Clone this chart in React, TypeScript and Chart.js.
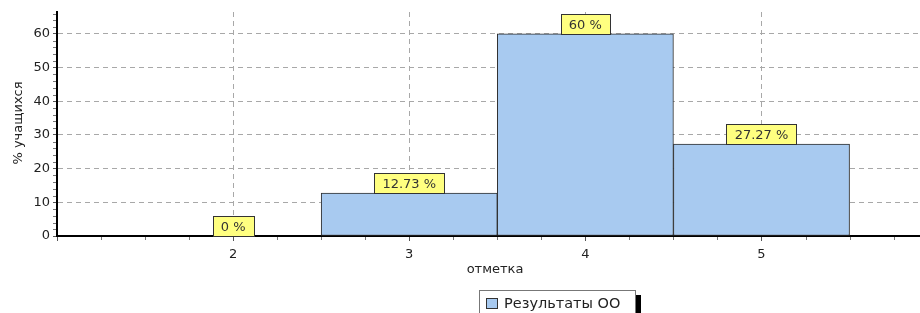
import React, { useEffect, useRef } from 'react';
import { Chart, registerables } from 'chart.js';

Chart.register(...registerables);

const categories = [2, 3, 4, 5];
const values = [0, 12.73, 60, 27.27];
const valueLabels = ['0 %', '12.73 %', '60 %', '27.27 %'];
const seriesName = 'Результаты ОО';
const xTitle = 'отметка';
const yTitle = '% учащихся';

const FONT = '"DejaVu Sans", Verdana, sans-serif';

const labelPlugin = {
  id: 'valueLabels',
  afterDatasetsDraw(chart: any) {
    const meta = chart.getDatasetMeta(0);
    const ctx = chart.ctx;
    ctx.save();
    ctx.font = '13px ' + FONT;
    ctx.textAlign = 'center';
    ctx.textBaseline = 'middle';
    meta.data.forEach((bar: any, i: number) => {
      const text = valueLabels[i];
      const w = Math.round(ctx.measureText(text).width + 16);
      const h = 20;
      const x = Math.round(bar.x - w / 2) + 0.5;
      const yb = Math.round(bar.y);
      const y = yb - h + 0.5;
      ctx.fillStyle = '#FFFF80';
      ctx.fillRect(x, y, w, h);
      ctx.strokeStyle = '#333333';
      ctx.lineWidth = 1;
      ctx.strokeRect(x, y, w, h);
      ctx.fillStyle = '#333333';
      ctx.fillText(text, bar.x, y + h / 2 + 1);
    });
    ctx.restore();
  },
};

const decorPlugin = {
  id: 'decor',
  afterDraw(chart: any) {
    const ctx = chart.ctx;
    const xs = chart.scales.x;
    const ys = chart.scales.y;
    const area = chart.chartArea;
    ctx.save();
    // minor ticks
    ctx.strokeStyle = '#777';
    ctx.lineWidth = 1;
    ctx.beginPath();
    for (let v = 2; v < ys.max; v += 2) {
      if (v % 10 === 0) continue;
      const py = Math.round(ys.getPixelForValue(v)) + 0.5;
      ctx.moveTo(area.left - 4, py);
      ctx.lineTo(area.left - 1, py);
    }
    for (let v = xs.min + 0.25; v < xs.max; v += 0.25) {
      if (Math.abs(v - Math.round(v)) < 1e-6) continue;
      const px = Math.round(xs.getPixelForValue(v)) + 0.5;
      ctx.moveTo(px, area.bottom + 1);
      ctx.lineTo(px, area.bottom + 4);
    }
    ctx.stroke();
    // axis titles
    ctx.fillStyle = '#222';
    ctx.font = '13px ' + FONT;
    ctx.textAlign = 'center';
    ctx.textBaseline = 'middle';
    ctx.fillText(xTitle, 495, 270);
    ctx.translate(19, 123);
    ctx.rotate(-Math.PI / 2);
    ctx.fillText(yTitle, 0, 0);
    ctx.restore();
  },
};

export default function App() {
  const ref = useRef<HTMLCanvasElement | null>(null);

  useEffect(() => {
    if (!ref.current) return;
    Chart.defaults.font.family = FONT;
    const chart = new Chart(ref.current, {
      type: 'bar',
      data: {
        datasets: [
          {
            label: seriesName,
            data: categories.map((c, i) => ({ x: c, y: values[i] })),
            backgroundColor: '#A8CAF0',
            borderColor: '#2e2e2e',
            borderWidth: 1,
            borderSkipped: false,
            barPercentage: 1,
            categoryPercentage: 1,
          },
        ],
      },
      options: {
        responsive: false,
        animation: false,
        layout: { padding: { top: 12, right: 0, left: 0, bottom: 0 } },
        plugins: {
          legend: { display: false },
          tooltip: { enabled: false },
        },
        scales: {
          x: {
            type: 'linear',
            min: 1,
            max: 5.9,
            offset: false,
            afterFit: (s: any) => {
              s.height = 77;
            },
            ticks: {
              stepSize: 1,
              includeBounds: false,
              color: '#222',
              font: { size: 13, family: FONT },
              padding: 6,
              callback: (v: any) => (v === 1 ? '' : String(v)),
            },
            grid: {
              offset: false,
              color: '#a8a8a8',
              tickColor: '#555',
              tickLength: 5,
              lineWidth: 1,
            },
            border: { display: true, color: '#000', width: 2, dash: [5, 4] },
          },
          y: {
            type: 'linear',
            min: 0,
            max: 66.5,
            afterFit: (s: any) => {
              s.width = 57;
            },
            ticks: {
              stepSize: 10,
              includeBounds: false,
              color: '#222',
              font: { size: 13, family: FONT },
              padding: 3,
            },
            grid: {
              color: '#a8a8a8',
              tickColor: '#555',
              tickLength: 4,
              lineWidth: 1,
            },
            border: { display: true, color: '#000', width: 2, dash: [5, 4] },
          },
        },
      },
      plugins: [labelPlugin, decorPlugin],
    } as any);
    return () => chart.destroy();
  }, []);

  return (
    <div style={{ position: 'absolute', left: 0, top: 0, width: 920, height: 313, overflow: 'hidden', background: '#fff' }}>
      <canvas ref={ref} width={920} height={313} style={{ display: 'block' }} />
      <div
        style={{
          position: 'absolute',
          left: 479,
          top: 290,
          width: 157,
          height: 30,
          border: '1px solid #777',
          background: '#fff',
          boxShadow: '5px 5px 0 #000',
          fontFamily: FONT,
          fontSize: 14.5,
          color: '#222',
          display: 'flex',
          alignItems: 'flex-start',
          paddingTop: 4,
          boxSizing: 'border-box',
          whiteSpace: 'nowrap',
        }}
      >
        <span
          style={{
            display: 'inline-block',
            width: 12,
            height: 11,
            background: '#A8CAF0',
            border: '1px solid #333',
            marginLeft: 6,
            marginRight: 6,
            marginTop: 3,
            boxSizing: 'border-box',
          }}
        />
        <span>{seriesName}</span>
      </div>
    </div>
  );
}
